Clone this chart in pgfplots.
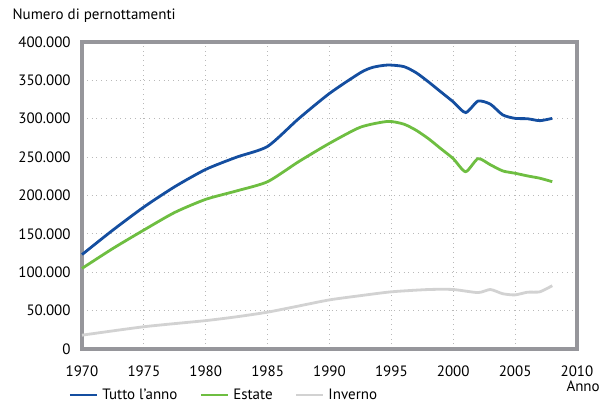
\documentclass[border=0pt]{standalone}
\usepackage{pgfplots}
\pgfplotsset{compat=1.18}
\usepackage{fontspec}
\setmainfont{PT Sans}
\definecolor{cblue}{RGB}{20,78,160}
\definecolor{cgreen}{RGB}{110,190,65}
\definecolor{cgrey}{RGB}{210,210,210}
\definecolor{frame}{RGB}{150,150,155}
\definecolor{gridc}{RGB}{185,185,185}
\begin{document}
\fontsize{7.5pt}{9pt}\selectfont
\begin{tikzpicture}
\begin{axis}[
  scale only axis, width=247.5pt, height=153.5pt,
  xmin=1970, xmax=2010, ymin=0, ymax=400000,
  xtick={1970,1975,...,2010}, ytick={0,50000,...,400000},
  major tick length=0pt,
  axis line style={frame, line width=1.6pt},
  grid=major,
  major grid style={gridc, dotted, line width=0.5pt},
  /pgf/number format/assume math mode=true,
  tick label style={font=\fontsize{7.5pt}{9pt}\selectfont},
  xticklabel={\pgfmathprintnumber[1000 sep={}]{\tick}},
  yticklabel={\pgfmathprintnumber[1000 sep={.}, fixed]{\tick}},
  scaled y ticks=false,
  yticklabel style={xshift=-3pt},
  xticklabel style={yshift=-5.5pt},
  legend columns=3,
  legend style={draw=none, fill=none, inner sep=0pt, at={(axis description cs:-0.028,-0.15)}, anchor=west,
    font=\fontsize{7.5pt}{9pt}\selectfont,
    /tikz/every even column/.append style={column sep=9pt}},
  legend image code/.code={\draw[#1] (0pt,0pt) -- (13.5pt,0pt);},
  every axis plot/.append style={line width=1.4pt, smooth, tension=0.4},
  clip=false,
]
\addplot[cblue] coordinates {
(1970,123000)(1972.5,155000)(1975,185000)(1977.5,211500)(1980,234000)(1982.5,250000)(1985,264000)
(1987.5,300000)(1990,333000)(1992.5,360000)(1993.5,367000)(1994.7,370000)(1996,368000)(1997,360000)
(1998,348000)(1999,335000)(2000,322000)(2001,308000)(2002,323000)(2003,319000)(2004,305000)
(2005,300500)(2006,300000)(2007,297500)(2008,300500)};
\addlegendentry{Tutto l'anno}
\addplot[cgreen] coordinates {
(1970,105000)(1972.5,131000)(1975,155000)(1977.5,178000)(1980,195000)(1982.5,206000)(1985,218000)
(1987.5,244000)(1990,268000)(1992.5,289000)(1994.7,296500)(1996,293000)(1997,285000)(1998,274000)
(1999,261000)(2000,248000)(2001,231000)(2002,248000)(2003,240000)(2004,232000)(2005,229000)
(2006,225500)(2007,222500)(2008,218000)};
\addlegendentry{Estate\hspace{5pt}}
\addplot[cgrey] coordinates {
(1970,18000)(1975,29000)(1980,37000)(1982.5,42000)(1985,48000)(1987.5,56000)(1990,64000)
(1992.5,69500)(1995,74500)(1998,77500)(2000,77500)(2002,73500)(2003,77500)(2004,72000)
(2005,70500)(2006,74000)(2007,74500)(2008,82500)};
\addlegendentry{Inverno}
\node[anchor=base west, inner sep=0pt] at (axis description cs:-0.141,1.072) {Numero di pernottamenti};
\node[anchor=base west, inner sep=0pt] at (axis description cs:0.978,-0.14) {Anno};
\coordinate (O) at (rel axis cs:0,0);
\end{axis}
\pgfresetboundingbox
\path ([xshift=-41pt,yshift=-26pt]O) rectangle ([xshift=259pt,yshift=174.5pt]O);
\end{tikzpicture}
\end{document}
